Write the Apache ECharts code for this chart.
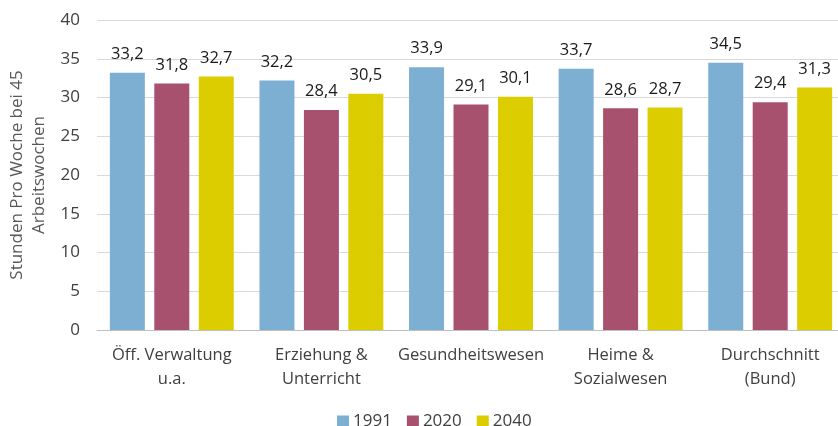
<!DOCTYPE html>
<html>
<head>
<meta charset="utf-8">
<script src="https://cdn.jsdelivr.net/npm/echarts@6/dist/echarts.min.js"></script>
<style>
  html, body { margin: 0; padding: 0; background: #fff; }
  #chart { width: 838px; height: 426px; }
</style>
</head>
<body>
<div id="chart"></div>
<script>
// Kategorien und Werte
var categories = ['Öff. Verwaltung\nu.a.', 'Erziehung &\nUnterricht', 'Gesundheitswesen', 'Heime &\nSozialwesen', 'Durchschnitt\n(Bund)']
var years = ['1991', '2020', '2040']
var v1991 = [33.2, 32.2, 33.9, 33.7, 34.5]
var v2020 = [31.8, 28.4, 29.1, 28.6, 29.4]
var v2040 = [32.7, 30.5, 30.1, 28.7, 31.3]
var colors = ['#7DAFD3', '#A8516E', '#DCCD00']

var font = '"Open Sans", sans-serif'

function makeSeries (name, data, color) {
  return {
    name: name,
    type: 'bar',
    data: data,
    barWidth: 35,
    barGap: '27%',
    itemStyle: { color: color },
    label: {
      show: true,
      position: 'top',
      distance: 10,
      color: '#1a1a1a',
      fontFamily: font,
      fontSize: 16.5,
      formatter: function (p) { return p.value.toFixed(1).replace('.', ',') }
    }
  }
}

var chart = echarts.init(document.getElementById('chart'))
var option = {
  animation: false,
  textStyle: { fontFamily: font },
  legend: {
    data: years,
    bottom: -9,
    left: 332,
    itemWidth: 12,
    itemHeight: 12,
    itemGap: 15,
    icon: 'rect',
    textStyle: { fontFamily: font, fontSize: 17, color: '#404040', padding: [0, 0, 0, -1] }
  },
  // rechter Rand liegt ausserhalb des Bildes wie im Original
  grid: { left: 97, right: -7, top: 20, bottom: 96, outerBoundsMode: 'none' },
  xAxis: {
    type: 'category',
    data: categories,
    axisTick: { show: false },
    axisLine: { lineStyle: { color: '#bfbfbf' } },
    axisLabel: { fontFamily: font, fontSize: 16.5, color: '#404040', margin: 13, lineHeight: 24, interval: 0 }
  },
  yAxis: {
    type: 'value',
    min: 0,
    max: 40,
    interval: 5,
    name: 'Stunden Pro Woche bei 45\nArbeitswochen',
    nameLocation: 'middle',
    nameGap: 45,
    nameTextStyle: { fontFamily: font, fontSize: 17, color: '#595959', lineHeight: 22 },
    axisLabel: { fontFamily: font, fontSize: 17, color: '#404040', margin: 17 },
    splitLine: { lineStyle: { color: '#d9d9d9' } }
  },
  series: [
    makeSeries(years[0], v1991, colors[0]),
    makeSeries(years[1], v2020, colors[1]),
    makeSeries(years[2], v2040, colors[2])
  ]
}
chart.setOption(option)
</script>
</body>
</html>
